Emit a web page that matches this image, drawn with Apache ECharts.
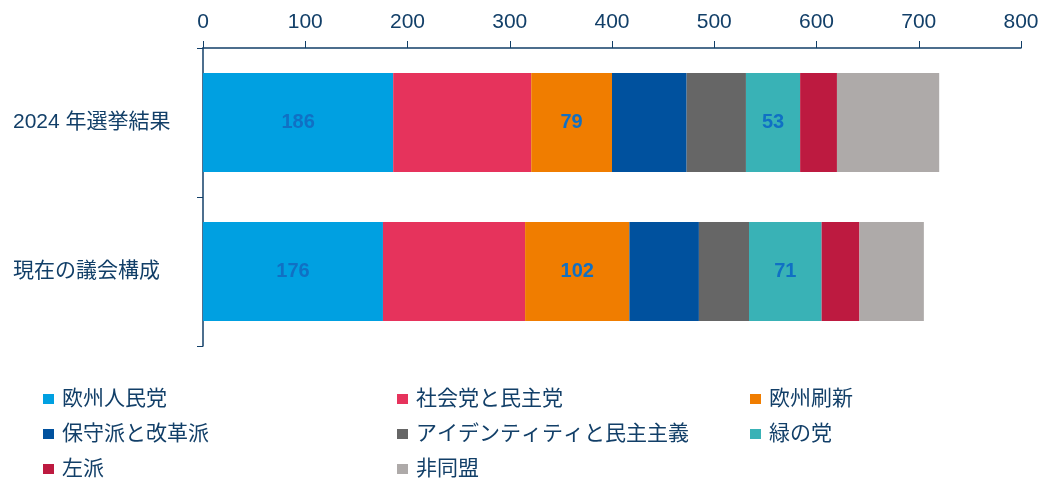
<html>
<head>
<meta charset="utf-8">
<script src="https://cdn.jsdelivr.net/npm/echarts@6/dist/echarts.min.js"></script>
<style>
  html, body, #main { width: 100%; height: 100%; margin: 0; background: #fff; }
</style>
</head>
<body>
<div id="main"></div>
<script>
  var categories = ['2024 年選挙結果', '現在の議会構成'];
  var groups = ['欧州人民党', '社会党と民主党', '欧州刷新', '保守派と改革派', 'アイデンティティと民主主義', '緑の党', '左派', '非同盟'];
  var seats2024 = [186, 135, 79, 73, 58, 53, 36, 100];
  var seatsNow = [176, 139, 102, 68, 49, 71, 37, 63];
  var colors = ['#00a0e1', '#e6335c', '#f07d00', '#00519e', '#666666', '#39b2b6', '#bd1a40', '#aeaaa9'];
  var labelled = ['欧州人民党', '欧州刷新', '緑の党'];

  var navy = '#123f68';
  var font = "'Liberation Sans', 'Noto Sans CJK JP', sans-serif";

  var chart = echarts.init(document.getElementById('main'));

  var series = groups.map(function (g, i) {
    return {
      name: g,
      type: 'bar',
      stack: 'total',
      barWidth: 99,
      itemStyle: { color: colors[i] },
      label: {
        show: labelled.indexOf(g) >= 0,
        position: 'inside',
        color: '#1070c4',
        fontWeight: 'bold',
        fontSize: 20,
        fontFamily: font
      },
      data: [seats2024[i], seatsNow[i]]
    };
  });

  // legend grid: 3 columns, 3 rows, filled row by row
  var colX = [43, 397, 750];
  var rowY = [399, 434, 469];
  var legends = groups.map(function (g, i) {
    return {
      data: [g],
      left: colX[i % 3],
      top: rowY[Math.floor(i / 3)] - 11,
      padding: 0,
      icon: 'rect',
      itemWidth: 11,
      itemHeight: 10,
      textStyle: { color: navy, fontSize: 21, fontFamily: font, lineHeight: 22, padding: [0, 0, 0, 3] }
    };
  });

  chart.setOption({
    animation: false,
    textStyle: { fontFamily: font },
    legend: legends,
    grid: { left: 203, right: 34, top: 48, height: 298 },
    xAxis: {
      type: 'value',
      position: 'top',
      min: 0,
      max: 800,
      interval: 100,
      splitLine: { show: false },
      axisLine: { show: true, lineStyle: { color: navy, width: 1.5 } },
      axisTick: { show: true, length: 7, lineStyle: { color: navy } },
      axisLabel: { color: navy, fontSize: 21, margin: 15, fontFamily: font }
    },
    yAxis: {
      type: 'category',
      inverse: true,
      data: categories,
      axisLine: { show: true, lineStyle: { color: navy, width: 1.5 } },
      axisTick: { show: true, length: 6, lineStyle: { color: navy } },
      axisLabel: { color: navy, fontSize: 21, margin: 190, align: 'left', fontFamily: font }
    },
    series: series
  });
</script>
</body>
</html>
